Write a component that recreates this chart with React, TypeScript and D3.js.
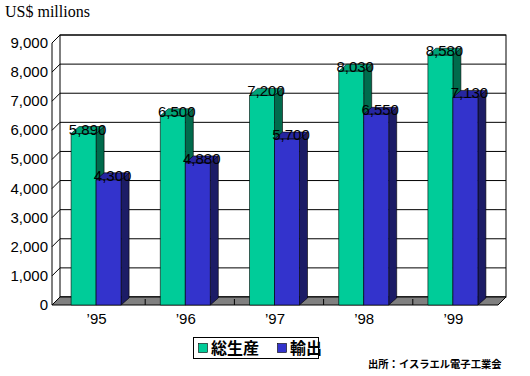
import React from "react";
import * as d3 from "d3";

const categories = ["’95", "’96", "’97", "’98", "’99"];
const production = [5890, 6500, 7200, 8030, 8580];
const exportsVals = [4300, 4880, 5700, 6550, 7130];
const yTicks = [0, 1000, 2000, 3000, 4000, 5000, 6000, 7000, 8000, 9000];
const seriesNames = ["総生産", "輸出"];
const source = "出所：イスラエル電子工業会";
const title = "US$ millions";

const W = 530, H = 376;
const DX = 8, DY = -8;
const BDX = 8, BDY = -7;

const colors = [
  { front: "#00CC99", side: "#006B4C", top: "#00A378" },
  { front: "#3333CC", side: "#1C1C66", top: "#2626A0" },
];

export default function App() {
  const x = d3.scaleBand<string>().domain(categories).range([52, 498]);
  const y = d3.scaleLinear().domain([0, 9000]).range([305, 43]);
  const fmt = d3.format(",");
  const y0 = y(0);
  const X0 = 52, X1 = 498;
  const bw = 25;
  const series = [production, exportsVals];

  const bars: JSX.Element[] = [];
  const labels: JSX.Element[] = [];
  categories.forEach((c, i) => {
    const cx = (x(c) as number) + x.bandwidth() / 2;
    series.forEach((vals, s) => {
      const v = vals[i];
      const bx = cx - bw + s * bw - 0.5;
      const yv = y(v);
      const col = colors[s];
      bars.push(
        <g key={`b${i}-${s}`} stroke="#000" strokeWidth={0.6} strokeLinejoin="round">
          <polygon
            points={`${bx + bw},${yv} ${bx + bw + BDX},${yv + BDY} ${bx + bw + BDX},${y0 + BDY} ${bx + bw},${y0}`}
            fill={col.side}
          />
          <polygon
            points={`${bx},${yv} ${bx + BDX},${yv + BDY} ${bx + bw + BDX},${yv + BDY} ${bx + bw},${yv}`}
            fill={col.top}
          />
          <rect x={bx} y={yv} width={bw} height={y0 - yv} fill={col.front} />
        </g>
      );
      labels.push(
        <text
          key={`l${i}-${s}`}
          x={bx + bw / 2 + BDX / 2}
          y={yv + 1}
          textAnchor="middle"
          fontFamily="Liberation Sans, Arial, sans-serif"
          fontSize={15}
          fill="#000"
        >
          {fmt(v)}
        </text>
      );
    });
  });

  return (
    <svg
      width={W}
      height={H}
      style={{ position: "absolute", left: 0, top: 0, background: "#fff" }}
    >
      <rect x={0} y={0} width={W} height={H} fill="#fff" />
      {/* title */}
      <text x={5} y={17} fontFamily="Liberation Serif, Times New Roman, serif" fontSize={16} fill="#000">
        {title}
      </text>
      {/* back wall */}
      <rect x={X0 + DX} y={y(9000) + DY} width={X1 - X0} height={y0 - y(9000)} fill="#fff" stroke="#000" strokeWidth={1} />
      {yTicks.map((t) => (
        <line key={`g${t}`} x1={X0 + DX} x2={X1 + DX} y1={y(t) + DY} y2={y(t) + DY} stroke="#000" strokeWidth={1} />
      ))}
      {/* left wall diagonals */}
      {yTicks.map((t) => (
        <line key={`d${t}`} x1={X0} x2={X0 + DX} y1={y(t)} y2={y(t) + DY} stroke="#000" strokeWidth={1} />
      ))}
      <line x1={X0} x2={X0} y1={y(9000)} y2={y0} stroke="#000" strokeWidth={1} />
      {/* floor */}
      <polygon
        points={`${X0},${y0} ${X0 + DX},${y0 + DY} ${X1 + DX},${y0 + DY} ${X1},${y0}`}
        fill="#808080"
        stroke="#000"
        strokeWidth={1}
      />
      {categories.slice(1).map((c) => (
        <line
          key={`ft${c}`}
          x1={(x(c) as number) + 4}
          x2={(x(c) as number) + 4}
          y1={y0 - 6}
          y2={y0}
          stroke="#000"
          strokeWidth={1}
        />
      ))}
      {bars}
      {labels}
      {/* y tick labels */}
      {yTicks.map((t) => (
        <text
          key={`yt${t}`}
          x={48}
          y={y(t) + 5}
          textAnchor="end"
          fontFamily="Liberation Sans, Arial, sans-serif"
          fontSize={15}
          fill="#000"
        >
          {fmt(t)}
        </text>
      ))}
      {/* category labels */}
      {categories.map((c) => (
        <text
          key={`xc${c}`}
          x={(x(c) as number) + x.bandwidth() / 2}
          y={324}
          textAnchor="middle"
          fontFamily="Liberation Sans, Arial, sans-serif"
          fontSize={15}
          fill="#000"
        >
          {c}
        </text>
      ))}
      {/* legend */}
      <rect x={193.5} y={337.5} width={125} height={21} fill="#fff" stroke="#000" strokeWidth={1} />
      <rect x={198.5} y={343.5} width={9} height={9} fill={colors[0].front} stroke="#000" strokeWidth={0.6} />
      <text x={211} y={354} fontFamily="Noto Sans CJK JP, sans-serif" fontWeight={700} fontSize={16} fill="#000">
        {seriesNames[0]}
      </text>
      <rect x={277.5} y={343.5} width={9} height={9} fill={colors[1].front} stroke="#000" strokeWidth={0.6} />
      <text x={290} y={354} fontFamily="Noto Sans CJK JP, sans-serif" fontWeight={700} fontSize={16} fill="#000">
        {seriesNames[1]}
      </text>
      {/* source */}
      <text x={368} y={368} fontFamily="Noto Sans CJK JP, sans-serif" fontWeight={700} fontSize={10.3} fill="#000">
        {source}
      </text>
    </svg>
  );
}
